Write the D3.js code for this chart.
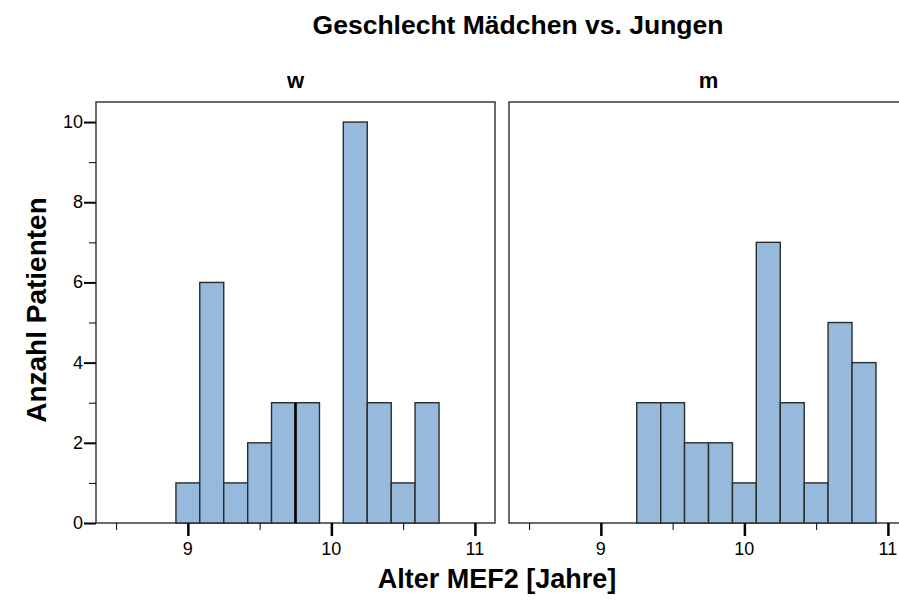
<!DOCTYPE html>
<html>
<head>
<meta charset="utf-8">
<script src="https://cdn.jsdelivr.net/npm/d3@7"></script>
<style>
body{margin:0;background:#fff;}
svg{display:block;font-family:"Liberation Sans",Arial,sans-serif;}
</style>
</head>
<body>
<svg id="chart" width="899" height="607"></svg>
<script>
// data
var binEdges=[8.917,9.083,9.25,9.417,9.583,9.75,9.917,10.083,10.25,10.417,10.583,10.75,10.917];
var countsW=[1,6,1,2,3,3,0,10,3,1,3,0];
var countsM=[0,0,3,3,2,2,1,7,3,1,5,4];
var panelNames=["w","m"];
var yMajorTicks=[0,2,4,6,8,10];
var yMinorTicks=[1,3,5,7,9];
var xMajorTicks=[9,10,11];
var xMinorTicks=[8.5,9.5,10.5];
var heavyEdgeW=9.75; // dark bar edge seen in the w panel

var TITLE="Geschlecht Mädchen vs. Jungen";
var XLABEL="Alter MEF2 [Jahre]";
var YLABEL="Anzahl Patienten";

// layout
var PANELTOP=102, PANELBOTTOM=523, PANELW=399;
var PANELLEFT=[96,509];
var XDOMAIN=[8.36,11.14];
var BARFILL="#97badc", BARSTROKE="#2b2b2b", FRAME="#3a3a3a";

var svg=d3.select("#chart");
var y=d3.scaleLinear().domain([0,10.5]).range([PANELBOTTOM,PANELTOP]);

function addText(x,yy,str,size,weight,anchor){
	return svg.append("text")
		.attr("x",x).attr("y",yy)
		.attr("text-anchor",anchor||"middle")
		.style("font-size",size+"px")
		.style("font-weight",weight||"normal")
		.style("fill","#000")
		.text(str);
}

function drawPanel(idx,counts){
	var left=PANELLEFT[idx];
	var x=d3.scaleLinear().domain(XDOMAIN).range([left,left+PANELW]);
	var g=svg.append("g").attr("class","panel"+panelNames[idx]);

	g.append("rect")
		.attr("x",left).attr("y",PANELTOP)
		.attr("width",PANELW).attr("height",PANELBOTTOM-PANELTOP)
		.attr("fill","#fff").attr("stroke",FRAME).attr("stroke-width",1.5);

	var bins=counts.map(function(c,i){return {x0:binEdges[i],x1:binEdges[i+1],n:c};})
		.filter(function(b){return b.n>0;});
	g.selectAll("rect.bar").data(bins).enter().append("rect")
		.attr("class","bar")
		.attr("x",function(d){return x(d.x0);})
		.attr("width",function(d){return x(d.x1)-x(d.x0);})
		.attr("y",function(d){return y(d.n);})
		.attr("height",function(d){return y(0)-y(d.n);})
		.attr("fill",BARFILL).attr("stroke",BARSTROKE).attr("stroke-width",1.4);

	if(idx==0){
		var k=binEdges.indexOf(heavyEdgeW);
		g.append("line")
			.attr("x1",x(heavyEdgeW)).attr("x2",x(heavyEdgeW))
			.attr("y1",y(Math.min(counts[k-1],counts[k]))).attr("y2",y(0))
			.attr("stroke","#000").attr("stroke-width",2.6);
	}

	// x axis, major + minor
	var xMaj=g.append("g").attr("transform","translate(0,"+PANELBOTTOM+")")
		.call(d3.axisBottom(x).tickValues(xMajorTicks).tickSize(13).tickFormat(""));
	xMaj.select(".domain").remove();
	xMaj.selectAll("line").attr("stroke","#000").attr("stroke-width",2.5);
	var xMin=g.append("g").attr("transform","translate(0,"+PANELBOTTOM+")")
		.call(d3.axisBottom(x).tickValues(xMinorTicks).tickSize(7).tickFormat(""));
	xMin.select(".domain").remove();
	xMin.selectAll("line").attr("stroke","#000").attr("stroke-width",1);
	xMajorTicks.forEach(function(t){
		if(x(t)<899){addText(x(t),555,d3.format("d")(t),18);}
	});

	addText(left+PANELW/2,88,panelNames[idx],22,"bold");
	return x;
}

function drawYAxis(){
	var left=PANELLEFT[0];
	var yMaj=svg.append("g").attr("transform","translate("+left+",0)")
		.call(d3.axisLeft(y).tickValues(yMajorTicks).tickSize(12).tickFormat(""));
	yMaj.select(".domain").remove();
	yMaj.selectAll("line").attr("stroke","#000").attr("stroke-width",2);
	var yMin=svg.append("g").attr("transform","translate("+left+",0)")
		.call(d3.axisLeft(y).tickValues(yMinorTicks).tickSize(7).tickFormat(""));
	yMin.select(".domain").remove();
	yMin.selectAll("line").attr("stroke","#000").attr("stroke-width",1);
	yMajorTicks.forEach(function(t){
		addText(left-13,y(t)+6,t,18,"normal","end");
	});
}

drawPanel(0,countsW);
drawPanel(1,countsM);
drawYAxis();

addText(518,34,TITLE,26.5,"bold");
addText(497,588,XLABEL,27,"bold");
svg.append("text")
	.attr("transform","translate(46,310) rotate(-90)")
	.attr("text-anchor","middle")
	.style("font-size","28px")
	.style("font-weight","bold")
	.text(YLABEL);
</script>
</body>
</html>
